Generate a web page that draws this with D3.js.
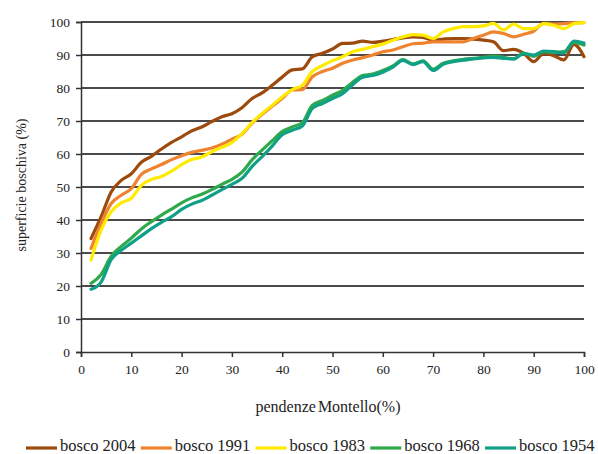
<!DOCTYPE html>
<html><head><meta charset="utf-8">
<script src="https://cdn.jsdelivr.net/npm/d3@7"></script>
<style>body{margin:0;background:#fff}svg{display:block}text{font-family:"Liberation Serif","DejaVu Serif",serif;fill:#222}</style>
</head><body><svg id="c" width="598" height="454"></svg>
<script>
const slopes = d3.range(2, 101, 2);
const yTicks = [0,10,20,30,40,50,60,70,80,90,100];
const xTicks = [0,10,20,30,40,50,60,70,80,90,100];
const seriesNames = ["bosco 2004","bosco 1991","bosco 1983","bosco 1968","bosco 1954"];
const seriesColors = ["#9C4A0E","#EE8330","#FFEA00","#2EAA4C","#0FA085"];
const bosco2004 = [34.4,41,48.5,52,54,57.5,59.3,61.5,63.5,65.2,67,68.2,69.8,71.3,72.2,74,76.8,78.5,80.8,83.3,85.5,85.8,89.5,90.5,91.8,93.5,93.6,94.2,93.8,94.2,94.7,95.2,95.5,95.3,94.5,94.8,95,95,94.8,94.5,94,91.3,91.7,90.5,88,90.5,89.8,88.5,93.2,89.5];
const bosco1991 = [31.4,39,45,47.5,49.5,53.8,55.5,56.8,58.3,59.5,60.5,61.1,61.8,63,64.5,66,69.3,72,74.5,76.8,79.4,79.5,83.4,85,86,87.5,88.5,89.2,90,91,91.5,92.5,93.4,93.6,94,94,94,94,95,96,97,96.5,95.5,96.3,97.2,99.6,99.4,99.5,99.8,99.8];
const bosco1983 = [27.9,37,42.5,45.2,46.6,50.5,52.3,53.2,54.8,56.8,58.3,59.1,60.7,62,63.5,66.2,69.5,72.3,74.8,77.3,79.5,80.8,85,86.8,88.3,89.5,91,91.7,92.5,93.3,94.5,95.5,96.2,96,95,97,98,98.6,98.6,98.8,99.6,97.6,99.4,98,98,99.5,99,98,99.5,99.8];
const bosco1968 = [20.8,23.5,29,32,34.5,37.3,39.5,41.5,43.3,45.2,46.7,47.8,49.2,50.8,52.3,54.5,58.2,61.2,64,66.8,68.2,69.5,74.8,76.2,77.8,79.3,81.7,83.8,84.2,85.3,86.7,88.6,87.3,88.2,85.7,87.5,88.2,88.7,89,89.3,89.7,89.3,88.8,90.6,89.6,91,90.8,91,93.8,93];
const bosco1954 = [19,21.2,28,30.8,33,35.2,37.4,39.3,41,43.2,44.8,45.9,47.5,49.2,50.8,52.6,56.2,59.2,62.4,65.8,67.2,68.5,73.8,75.3,76.8,78.3,81,83.3,83.8,84.8,86.3,88.4,87.1,88,85.3,87.2,88,88.4,88.8,89.1,89.3,89,88.8,90.4,90,91.2,91,90.6,94.2,93.6];
const xTitle = "pendenze Montello(%)";
const yTitle = "superficie boschiva (%)";

const seriesValues = [bosco2004,bosco1991,bosco1983,bosco1968,bosco1954];
const svg = d3.select("#c");
const x = d3.scaleLinear().domain([0,100]).range([81,584]);
const y = d3.scaleLinear().domain([0,100]).range([352,22]);

// gridlines
svg.append("g").selectAll("line").data(yTicks.filter(d=>d>0)).join("line")
  .attr("x1",x(0)).attr("x2",x(100)).attr("y1",d=>y(d)).attr("y2",d=>y(d))
  .attr("stroke","#4a4a4a").attr("stroke-width",2);

// y axis
const ya = svg.append("g").attr("transform",`translate(${x(0)},0)`)
  .call(d3.axisLeft(y).tickValues(yTicks).tickSize(5).tickPadding(6));
ya.select(".domain").attr("stroke","#333").attr("stroke-width",1.5);
ya.selectAll(".tick line").attr("stroke","#333").attr("stroke-width",1.5);
ya.selectAll("text").style("font-size","13.5px").style("font-family","Liberation Serif").attr("fill","#222");

// x axis
const xa = svg.append("g").attr("transform",`translate(0,${y(0)})`)
  .call(d3.axisBottom(x).tickValues(xTicks).tickSize(5).tickPadding(7));
xa.select(".domain").attr("stroke","#333").attr("stroke-width",1.5);
xa.selectAll(".tick line").attr("stroke","#333").attr("stroke-width",1.5);
xa.selectAll("text").style("font-size","13.5px").style("font-family","Liberation Serif").attr("fill","#222");

// lines
const line = d3.line().x((d,i)=>x(slopes[i])).y(d=>y(d)).curve(d3.curveMonotoneX);
svg.append("g").selectAll("path").data(seriesValues).join("path")
  .attr("d",d=>line(d)).attr("fill","none")
  .attr("stroke",(d,i)=>seriesColors[i]).attr("stroke-width",3.2)
  .attr("stroke-linejoin","round").attr("stroke-linecap","round");

// titles
svg.append("text").attr("x",328).attr("y",412).attr("text-anchor","middle")
  .style("font-size","16px").style("word-spacing","-2px").text(xTitle);
svg.append("text").attr("transform",`translate(26,185) rotate(-90)`).attr("text-anchor","middle")
  .style("font-size","14px").text(yTitle);

// legend
const lg = svg.append("g").selectAll("g").data(seriesNames).join("g")
  .attr("transform",(d,i)=>`translate(${26+i*114.75},451)`);
lg.append("line").attr("x1",0).attr("x2",31).attr("y1",-3).attr("y2",-3)
  .attr("stroke",(d,i)=>seriesColors[i]).attr("stroke-width",3.2);
lg.append("text").attr("x",34).attr("y",0).style("font-size","16.5px").text(d=>d);
</script></body></html>
